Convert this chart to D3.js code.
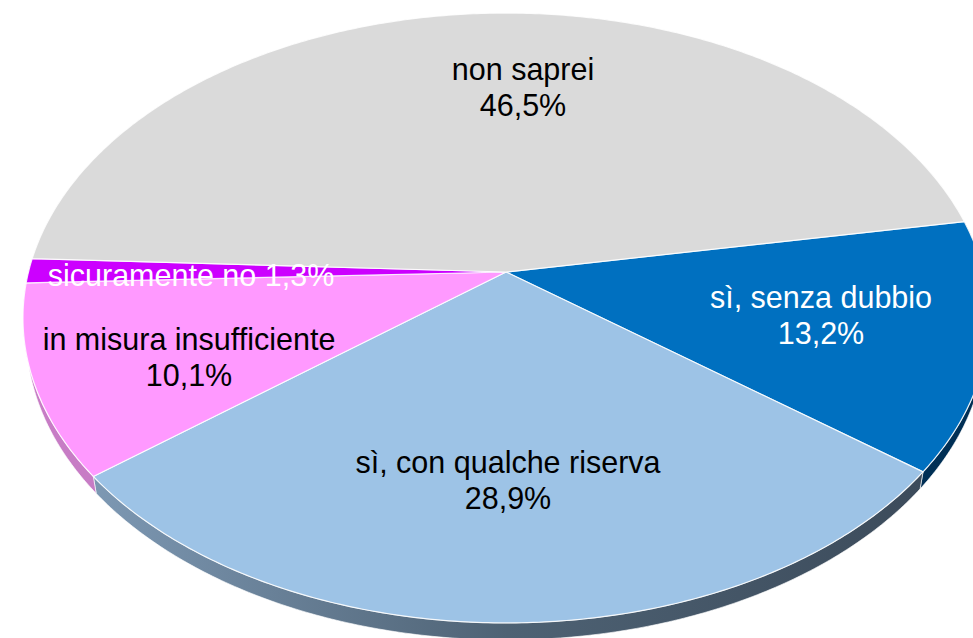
<!DOCTYPE html>
<html>
<head>
<meta charset="utf-8">
<script src="https://cdn.jsdelivr.net/npm/d3@7/dist/d3.min.js"></script>
<style>
    html, body { margin: 0; padding: 0; background: #fff; overflow: hidden; }
    text { font-family: "Liberation Sans", Arial, sans-serif; font-size: 30.5px; text-anchor: middle; }
</style>
</head>
<body>
<svg id="pieChart"></svg>
<script>
// values, clockwise from the grey/blue edge
const categories = ["sì, senza dubbio", "sì, con qualche riserva", "in misura insufficiente", "sicuramente no", "non saprei"];
const percentages = [13.2, 28.9, 10.1, 1.3, 46.5];
const percentLabels = ["13,2%", "28,9%", "10,1%", "1,3%", "46,5%"];

const width = 973;
const height = 638;

// colours, same order as the categories
const topColors = ["#0070c0", "#9dc3e6", "#ff99ff", "#cc00ff", "#dadada"];
const wallColors = ["#002f55", "url(#wallGradient)", "#c77cc5", "#c77cc5", "#dadada"];
const textColors = ["#fff", "#000", "#000", "#fff", "#000"];

// label centres and baselines, same order (two lines except the magenta one)
const labelX = [821, 508, 189, 191, 523];
const labelY = [308, 473, 350, 286, 80];
const lineGap = 36;

// the pie is tilted with some perspective, so the apex sits above the ellipse centre
const apex = { "x": 506, "y": 272 };
const radiusX = 477.5;
const radiusY = 298;
const perspective = 0.1508;
const depth = 17;
const wallShrink = 0.993;

const svg = d3.select("#pieChart")
    .attr("width", width)
    .attr("height", height)
    .style("display", "block");

const defs = svg.append("defs");
const gradient = defs.append("linearGradient")
    .attr("id", "wallGradient")
    .attr("gradientUnits", "userSpaceOnUse")
    .attr("x1", 93).attr("x2", 921)
    .attr("y1", 0).attr("y2", 0);
gradient.append("stop").attr("offset", 0).attr("stop-color", "#7d98b3");
gradient.append("stop").attr("offset", 0.5).attr("stop-color", "#4e6274");
gradient.append("stop").attr("offset", 1).attr("stop-color", "#3c4b5b");

// pie angle -> point on the top face
function project(angle, radius) {
    const u = radius * Math.sin(angle);
    const v = -radius * Math.cos(angle);
    const w = 1 - perspective * v;
    return [apex.x + radiusX * u / w, apex.y + radiusY * v / w];
}

// same angle on the lower rim of the side wall
function projectLower(angle) {
    const p = project(angle, 1);
    const centreX = apex.x;
    return [centreX + (p[0] - centreX) * wallShrink, p[1] + depth];
}

const pie = d3.pie()
    .sort(null)
    .startAngle(80 * Math.PI / 180)
    .endAngle(440 * Math.PI / 180);

const slices = pie(percentages);
const line = d3.line();

function arcAngles(d) {
    const steps = Math.max(4, Math.ceil((d.endAngle - d.startAngle) / 0.01));
    return d3.range(steps + 1).map(i => d.startAngle + (d.endAngle - d.startAngle) * i / steps);
}

// side walls first, the top faces cover whatever is not visible
svg.append("g")
    .attr("class", "walls")
    .selectAll("path")
    .data(slices)
    .enter()
    .append("path")
    .attr("d", d => {
        const angles = arcAngles(d);
        return line(angles.map(a => project(a, 1)).concat(angles.slice().reverse().map(projectLower))) + "Z";
    })
    .style("fill", (d, i) => wallColors[i])
    .style("stroke", "#fff")
    .style("stroke-width", 0.8)
    .style("stroke-opacity", 0.8);

svg.append("g")
    .attr("class", "faces")
    .selectAll("path")
    .data(slices)
    .enter()
    .append("path")
    .attr("d", d => line([[apex.x, apex.y]].concat(arcAngles(d).map(a => project(a, 1)))) + "Z")
    .style("fill", (d, i) => topColors[i])
    .style("stroke", "#fff")
    .style("stroke-width", 1.2)
    .style("stroke-opacity", 0.85)
    .style("stroke-linejoin", "round");

// labels
const labels = svg.append("g")
    .attr("class", "labels")
    .selectAll("text")
    .data(slices)
    .enter()
    .append("text")
    .attr("x", (d, i) => labelX[i])
    .attr("y", (d, i) => labelY[i])
    .style("fill", (d, i) => textColors[i]);

labels.each(function(d, i) {
    const label = d3.select(this);
    if (categories[i] === "sicuramente no") {
        label.text(categories[i] + " " + percentLabels[i]);
    } else {
        label.append("tspan").text(categories[i]);
        label.append("tspan")
            .attr("x", labelX[i])
            .attr("dy", lineGap)
            .text(percentLabels[i]);
    }
});
</script>
</body>
</html>
